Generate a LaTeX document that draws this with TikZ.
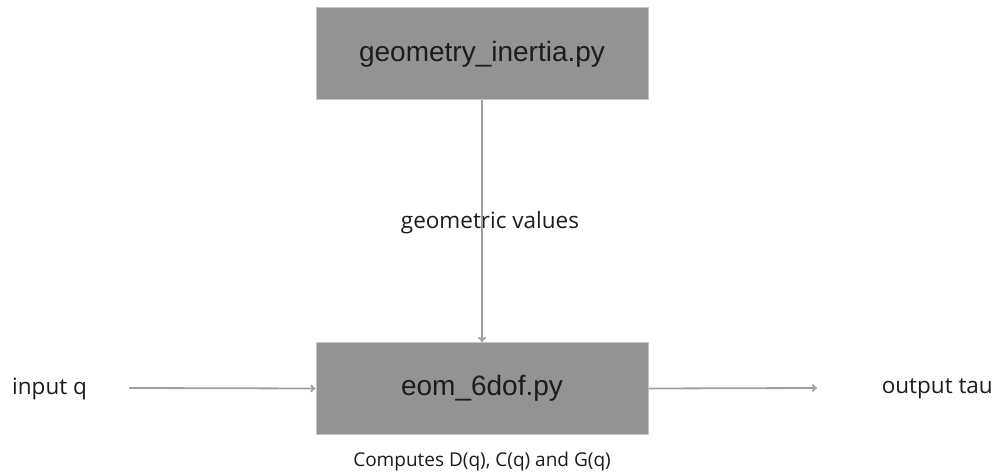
\documentclass[tikz,border=0pt]{standalone}
\usepackage{fontspec}
\setmainfont{Liberation Sans}
\newfontfamily\labelfont{Open Sans}
\usetikzlibrary{arrows.meta}
\definecolor{boxfill}{HTML}{939393}
\definecolor{boxline}{HTML}{C4C4C4}
\definecolor{conn}{HTML}{A0A0A0}
\definecolor{ink}{HTML}{1C1C1C}
\begin{document}
\begin{tikzpicture}[x=1pt,y=-1pt,
  filebox/.style={draw=boxline, fill=boxfill, line width=1pt, minimum width=332pt, minimum height=92pt, inner sep=0pt, text=ink, font=\fontsize{28}{32}\selectfont},
  lbl/.style={text=ink, inner sep=0pt, font=\labelfont\fontsize{22.5}{26}\selectfont},
  conn/.style={draw=conn, line width=1.8pt, -{To[length=5pt,width=8pt]}}]
\useasboundingbox (0,0) rectangle (996,473);
\node[filebox] (geo) at (482,54) {geometry\_inertia.py};
\node[filebox] (eom) at (482,388.5) {eom\_6dof.py};
\node[lbl, anchor=west] (in) at (12,389) {input q};
\node[lbl, anchor=east] (out) at (993,389) {output tau};
\node[lbl] (gv) at (490,223) {geometric values};
\node[lbl, font=\labelfont\fontsize{19}{22}\selectfont] (cap) at (482,462) {Computes D(q), C(q) and G(q)};
\coordinate (inA) at (129,388);
\coordinate (outB) at (817,388);
\draw[conn] (geo.south) -- (eom.north);
\draw[conn] (inA) -- (eom.west);
\draw[conn] (eom.east) -- (outB);
\end{tikzpicture}
\end{document}
